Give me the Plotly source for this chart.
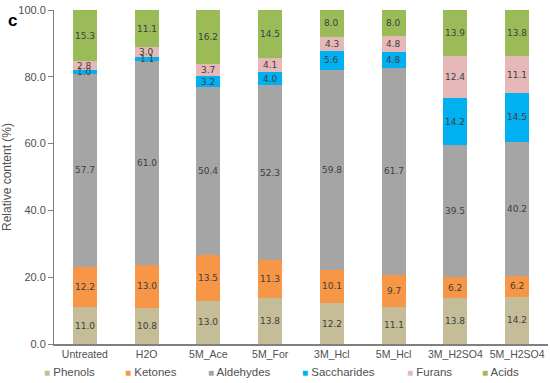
import plotly.graph_objects as go

categories = ["Untreated", "H2O", "5M_Ace", "5M_For", "3M_Hcl", "5M_Hcl", "3M_H2SO4", "5M_H2SO4"]
phenols = [11.0, 10.8, 13.0, 13.8, 12.2, 11.1, 13.8, 14.2]
ketones = [12.2, 13.0, 13.5, 11.3, 10.1, 9.7, 6.2, 6.2]
aldehydes = [57.7, 61.0, 50.4, 52.3, 59.8, 61.7, 39.5, 40.2]
saccharides = [1.0, 1.1, 3.2, 4.0, 5.6, 4.8, 14.2, 14.5]
furans = [2.8, 3.0, 3.7, 4.1, 4.3, 4.8, 12.4, 11.1]
acids = [15.3, 11.1, 16.2, 14.5, 8.0, 8.0, 13.9, 13.8]
y_ticks = [0, 20, 40, 60, 80, 100]

series = [
    ("Phenols", phenols, "#C4BD97"),
    ("Ketones", ketones, "#F79646"),
    ("Aldehydes", aldehydes, "#A5A5A5"),
    ("Saccharides", saccharides, "#00B0F0"),
    ("Furans", furans, "#E6B9B8"),
    ("Acids", acids, "#9BBB59"),
]

# pixel geometry of the page
W, H = 550, 383
ML, MR, MT, MB = 54, 2, 10, 39
PW = W - ML - MR
PH = H - MT - MB
legend_left_px = [42, 123, 206, 300, 405, 480]
TEXT = "#505050"

fig = go.Figure()
annotations = []
base = [0.0] * len(categories)
for k, (name, vals, color) in enumerate(series):
    fig.add_trace(go.Bar(
        x=categories, y=vals, name=name, showlegend=False,
        marker=dict(color=color, line=dict(width=0)),
    ))
    for i, v in enumerate(vals):
        annotations.append(dict(
            x=categories[i], y=base[i] + v / 2, xref="x", yref="y",
            text=f"{v:.1f}", showarrow=False, xanchor="center", yanchor="middle",
            font=dict(family="DejaVu Sans", size=9, color="#404040"),
        ))
        base[i] += v
    # legend entry
    annotations.append(dict(
        x=(legend_left_px[k] - ML) / PW, y=-(372 - (MT + PH)) / PH,
        xref="paper", yref="paper", xanchor="left", yanchor="middle", showarrow=False,
        text=f"<span style='color:{color}; font-size:10px'>■</span> {name}",
        font=dict(family="Liberation Sans, Arial", size=11.5, color=TEXT),
    ))

annotations.append(dict(text="<b>c</b>", x=(12 - ML) / PW, y=1 - (21 - MT) / PH,
                        xref="paper", yref="paper",
                        xanchor="center", yanchor="middle", showarrow=False,
                        font=dict(family="Liberation Sans, Arial", size=17, color="black")))

fig.update_layout(
    barmode="stack",
    bargap=0.61,
    width=W, height=H,
    margin=dict(l=ML, r=MR, t=MT, b=MB, autoexpand=False),
    plot_bgcolor="white", paper_bgcolor="white",
    font=dict(family="Liberation Sans, Arial", size=11, color=TEXT),
    showlegend=False,
    annotations=annotations,
)
fig.update_yaxes(range=[0, 100], tickvals=y_ticks, tickformat=".1f",
                 showgrid=False, zeroline=False, showline=True, linecolor="#808080",
                 ticks="outside", ticklen=5, tickcolor="#808080",
                 title=dict(text="Relative content (%)", font=dict(size=12, color=TEXT), standoff=5),
                 tickfont=dict(size=11, color=TEXT), automargin=False)
fig.update_xaxes(showgrid=False, showline=True, linecolor="#808080", linewidth=1.5,
                 ticks="", tickfont=dict(size=10.5, color=TEXT), automargin=False)

fig.write_html("out.html", config={"displayModeBar": False},
               post_script="document.body.style.margin='0';document.body.style.overflow='hidden';")
